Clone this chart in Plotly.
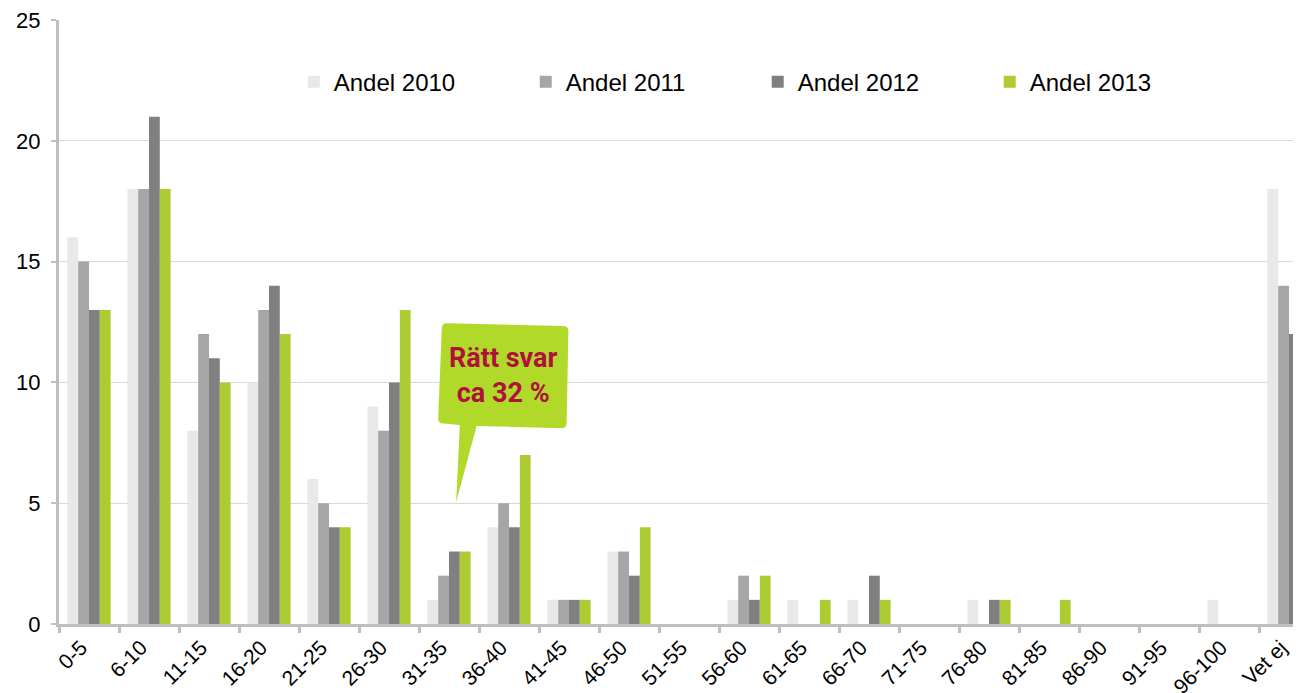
import plotly.graph_objects as go

categories = ["0-5", "6-10", "11-15", "16-20", "21-25", "26-30", "31-35", "36-40",
              "41-45", "46-50", "51-55", "56-60", "61-65", "66-70", "71-75", "76-80",
              "81-85", "86-90", "91-95", "96-100", "Vet ej"]

andel_2010 = [16, 18, 8, 10, 6, 9, 1, 4, 1, 3, 0, 1, 1, 1, 0, 1, 0, 0, 0, 1, 18]
andel_2011 = [15, 18, 12, 13, 5, 8, 2, 5, 1, 3, 0, 2, 0, 0, 0, 0, 0, 0, 0, 0, 14]
andel_2012 = [13, 21, 11, 14, 4, 10, 3, 4, 1, 2, 0, 1, 0, 2, 0, 1, 0, 0, 0, 0, 12]
andel_2013 = [13, 18, 10, 12, 4, 13, 3, 7, 1, 4, 0, 2, 1, 1, 0, 1, 1, 0, 0, 0, 10]

series = [
    ("Andel 2010", andel_2010, "#E8E8E8"),
    ("Andel 2011", andel_2011, "#A6A6A6"),
    ("Andel 2012", andel_2012, "#808080"),
    ("Andel 2013", andel_2013, "#ADCC33"),
]

XR = [-0.5, 20.2]
YR = [0, 25]
FONT = "Liberation Sans, Arial, sans-serif"

fig = go.Figure()
for name, vals, col in series:
    fig.add_trace(go.Bar(x=categories, y=vals, name=name, marker_color=col,
                         marker_line_width=0))


# callout bubble, positions given in (category index, value) then mapped to paper
def px(i):
    return (i - XR[0]) / (XR[1] - XR[0])


def py(v):
    return (v - YR[0]) / (YR[1] - YR[0])


def P(i, v):
    return "%.5f,%.5f" % (px(i), py(v))


r_i, r_v = 0.09, 0.22
bubble = ("M " + P(5.88 + r_i, 12.45) +
          " L " + P(7.99 - r_i, 12.33) +
          " Q " + P(7.99, 12.33) + " " + P(7.99, 12.33 - r_v) +
          " L " + P(7.96, 8.1 + r_v) +
          " Q " + P(7.96, 8.1) + " " + P(7.96 - r_i, 8.1) +
          " L " + P(6.46, 8.2) +
          " L " + P(6.12, 5.05) +
          " L " + P(6.18, 8.24) +
          " L " + P(5.82 + r_i, 8.3) +
          " Q " + P(5.82, 8.3) + " " + P(5.82, 8.3 + r_v) +
          " L " + P(5.88, 12.45 - r_v) +
          " Q " + P(5.88, 12.45) + " " + P(5.88 + r_i, 12.45) + " Z")
fig.add_shape(type="path", path=bubble, xref="paper", yref="paper",
              fillcolor="#B0D92A", line=dict(width=0), layer="above")
fig.add_annotation(x=px(6.9), y=py(10.3), xref="paper", yref="paper",
                   text="<b>Rätt svar<br>ca 32 %</b>", showarrow=False,
                   font=dict(family="Roboto, Noto Sans, sans-serif",
                             size=27, color="#B0103C"))

# page has an 8px body margin, so the figure is shrunk by that much
fig.update_layout(
    width=1293, height=685,
    margin=dict(l=51, r=0, t=12, b=69),
    plot_bgcolor="white", paper_bgcolor="white",
    font=dict(family=FONT, size=22, color="black"),
    barmode="group", bargap=0.28, bargroupgap=0,
    showlegend=True,
    legend=dict(orientation="h", x=0.189, y=0.897, xanchor="left", yanchor="middle",
                entrywidth=187, entrywidthmode="pixels",
                font=dict(size=24), bgcolor="rgba(0,0,0,0)", traceorder="normal"),
)
fig.update_xaxes(type="category", range=XR, showline=True, linewidth=3,
                 linecolor="#BFBFBF", ticks="outside", tickson="boundaries",
                 ticklen=6, tickwidth=3, tickcolor="#BFBFBF", tickangle=-45,
                 showgrid=False, tickfont=dict(size=21), automargin=False,
                 ticklabelshift=-8, ticklabeloverflow="allow")
fig.update_yaxes(range=YR, dtick=5, showline=True, linewidth=3, linecolor="#BFBFBF",
                 ticks="outside", ticklen=5, tickwidth=2, tickcolor="#BFBFBF",
                 gridcolor="#D9D9D9", gridwidth=1, zeroline=False,
                 tickfont=dict(size=22), automargin=False, ticklabelstandoff=6,
                 ticklabeloverflow="allow")

fig.write_html("out.html")
